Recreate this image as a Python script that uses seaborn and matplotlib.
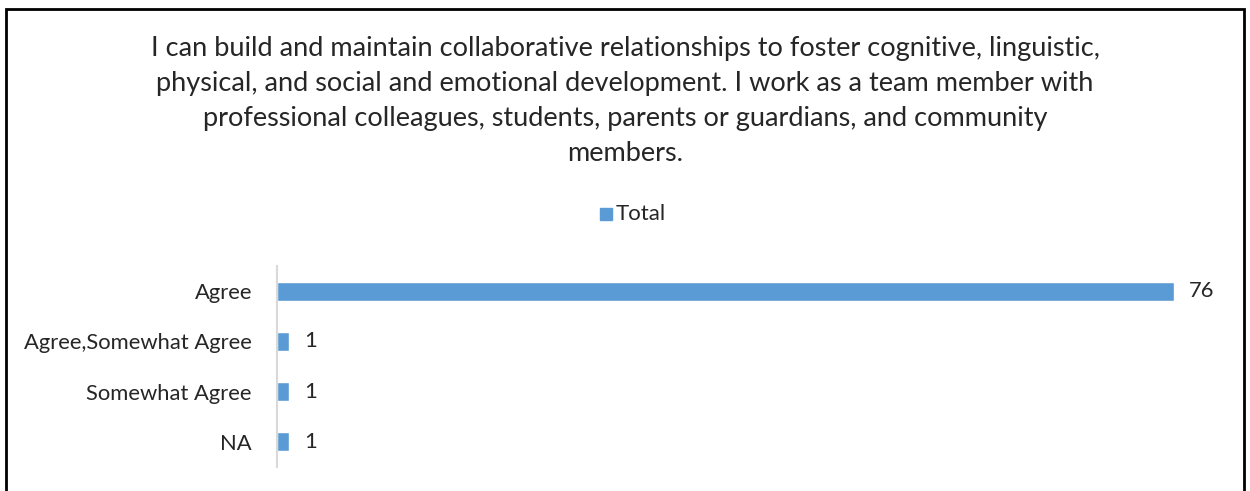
import matplotlib
matplotlib.use('Agg')
import matplotlib.pyplot as plt
import seaborn as sns
import pandas as pd
from matplotlib.patches import Rectangle

# Данные графика
categories = ['Agree', 'Agree,Somewhat Agree', 'Somewhat Agree', 'NA']
totals = [76, 1, 1, 1]
title = ('I can build and maintain collaborative relationships to foster cognitive, linguistic,\n'
         'physical, and social and emotional development. I work as a team member with\n'
         'professional colleagues, students, parents or guardians, and community\n'
         'members.')

df = pd.DataFrame({'category': categories, 'Total': totals})

sns.set_style('white')
plt.rcParams['font.family'] = ['Lato', 'DejaVu Sans']

fig = plt.figure(figsize=(12.5, 4.91), dpi=100)
ax = fig.add_axes([0.2216, 0.0489, 0.7552, 0.4093])

sns.barplot(data=df, y='category', x='Total', orient='h', color='#5B9BD5',
            width=0.38, ax=ax, saturation=1)
ax.set_xlim(0, 80)
ax.set_ylim(3.5, -0.5)
ax.set_xlabel('')
ax.set_ylabel('')
ax.set_xticks([])
ax.tick_params(axis='y', length=0, pad=18, labelsize=15.8, labelcolor='#262626')
for s in ['top', 'right', 'bottom']:
    ax.spines[s].set_visible(False)
ax.spines['left'].set_color('#D9D9D9')
ax.spines['left'].set_linewidth(1.5)

ax.bar_label(ax.containers[0], padding=11, fontsize=15.8, color='#262626')

# Заголовок
fig.text(0.5, 1 - 36 / 491, title, ha='center', va='top', fontsize=19.5,
         color='#262626', linespacing=1.5)

# Легенда
fig.patches.append(Rectangle((600 / 1250, 1 - 220 / 491), 12 / 1250, 12 / 491,
                             transform=fig.transFigure, color='#5B9BD5'))
fig.text(616 / 1250, 1 - 214 / 491, 'Total', ha='left', va='center',
         fontsize=16, color='#262626')

# Рамка
fig.patches.append(Rectangle((6 / 1250, -0.1), 1238 / 1250, 1.1 - 9 / 491,
                             transform=fig.transFigure, fill=False,
                             edgecolor='black', linewidth=2, clip_on=False))

fig.savefig('out.png', dpi=100)
